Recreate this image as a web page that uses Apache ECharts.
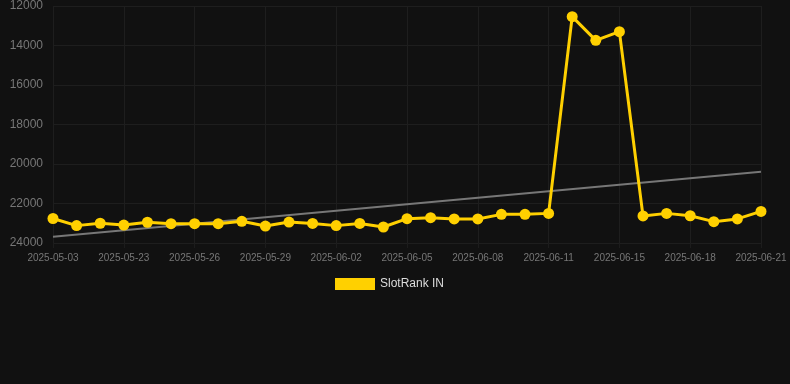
<!DOCTYPE html>
<html>
<head>
<meta charset="utf-8">
<script src="https://cdn.jsdelivr.net/npm/echarts@6/dist/echarts.min.js"></script>
<style>
  html, body { margin: 0; padding: 0; background: #111111; }
  #chart { width: 790px; height: 384px; }
</style>
</head>
<body>
<div id="chart"></div>
<script>
const dates = [
  "2025-05-03", "2025-05-21", "2025-05-22", "2025-05-23", "2025-05-24",
  "2025-05-25", "2025-05-26", "2025-05-27", "2025-05-28", "2025-05-29",
  "2025-05-30", "2025-06-01", "2025-06-02", "2025-06-03", "2025-06-04",
  "2025-06-05", "2025-06-06", "2025-06-07", "2025-06-08", "2025-06-09",
  "2025-06-10", "2025-06-11", "2025-06-12", "2025-06-13", "2025-06-15",
  "2025-06-16", "2025-06-17", "2025-06-18", "2025-06-19", "2025-06-20",
  "2025-06-21",
];

const slotRank = [
  22760, 23120, 23000, 23090, 22950, 23020, 23020, 23020, 22900, 23140,
  22940, 23010, 23120, 23010, 23190, 22770, 22720, 22780, 22780, 22550,
  22550, 22500, 12540, 13740, 13300, 22630, 22500, 22620, 22920, 22780,
  22400,
];

// trend line endpoints (first and last date)
const trendStart = 23680;
const trendEnd = 20390;
const trend = dates.map((d, i) =>
  i === 0 ? trendStart : i === dates.length - 1 ? trendEnd : null);

const chart = echarts.init(document.getElementById("chart"));
chart.setOption({
  backgroundColor: "#111111",
  animation: false,
  grid: { top: 6, bottom: 141, left: 53, right: 29 },
  legend: {
    top: 278,
    left: 335,
    data: ["SlotRank IN"],
    itemWidth: 40,
    itemHeight: 12,
    itemGap: 6,
    padding: 0,
    icon: "rect",
    textStyle: { color: "#dddddd", fontSize: 12, fontFamily: "Liberation Sans" },
  },
  xAxis: {
    type: "category",
    data: dates,
    boundaryGap: false,
    axisLine: { show: false },
    axisTick: { show: true, interval: 2, length: 5, lineStyle: { color: "#1c1c1c" } },
    axisLabel: {
      interval: 2,
      color: "#777777",
      fontSize: 10,
      fontFamily: "Liberation Sans",
      margin: 10,
    },
    splitLine: { show: true, interval: 2, lineStyle: { color: "#1e1e1e" } },
  },
  yAxis: {
    type: "value",
    inverse: true,
    min: 12000,
    max: 24000,
    interval: 2000,
    axisLine: { show: false },
    axisTick: { show: false },
    axisLabel: {
      color: "#777777",
      fontSize: 12,
      fontFamily: "Liberation Sans",
      margin: 10,
      formatter: (v) => String(v),
    },
    splitLine: { lineStyle: { color: "#1e1e1e" } },
  },
  series: [
    {
      name: "Trend",
      type: "line",
      data: trend,
      connectNulls: true,
      showSymbol: false,
      silent: true,
      lineStyle: { color: "#777777", width: 2 },
      z: 1,
    },
    {
      name: "SlotRank IN",
      type: "line",
      data: slotRank,
      symbol: "circle",
      symbolSize: 11,
      itemStyle: { color: "#ffd000" },
      lineStyle: { color: "#ffd000", width: 3 },
      z: 2,
    },
  ],
});
</script>
</body>
</html>
